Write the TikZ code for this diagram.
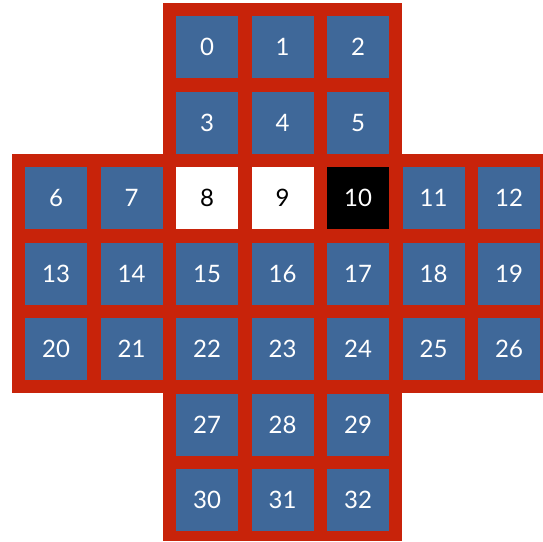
\documentclass[tikz,border=0pt]{standalone}
\usepackage{fontspec}
\setsansfont{Lato}
\definecolor{boardred}{RGB}{200,35,10}
\definecolor{pegblue}{RGB}{63,104,153}
\tikzstyle{cell} = [rectangle,
minimum width=62pt,
minimum height=62pt,
inner sep=0pt,
text centered,
fill=pegblue,
text=white,
font=\sffamily\fontsize{24}{24}\selectfont]
\tikzstyle{whitecell} = [cell, fill=white, text=black]
\tikzstyle{blackcell} = [cell, fill=black, text=white]
\tikzstyle{board} = [fill=boardred, draw=none]

\begin{document}
\begin{tikzpicture}[x=1pt, y=-1pt]
    \useasboundingbox (0,0) rectangle (543,541);
    % cross shaped board
    \fill [board] (163,3) rectangle (402,541);
    \fill [board] (12,154) rectangle (543,393);
    % row/first number/cells in row
    \foreach \r/\first/\cols in {0/0/3, 1/3/3, 2/6/7, 3/13/7, 4/20/7, 5/27/3, 6/30/3} {
        \pgfmathtruncatemacro{\off}{\cols==3 ? 2 : 0}
        \pgfmathtruncatemacro{\last}{\cols-1}
        \foreach \k in {0,...,\last} {
            \pgfmathtruncatemacro{\n}{\first+\k}
            \def\kind{cell}
            \ifnum\n=8 \def\kind{whitecell}\fi
            \ifnum\n=9 \def\kind{whitecell}\fi
            \ifnum\n=10 \def\kind{blackcell}\fi
            \node (c\n) [\kind] at ({56+75.5*(\k+\off)}, {47+75.5*\r}) {\n};
        }
    }
\end{tikzpicture}
\end{document}
